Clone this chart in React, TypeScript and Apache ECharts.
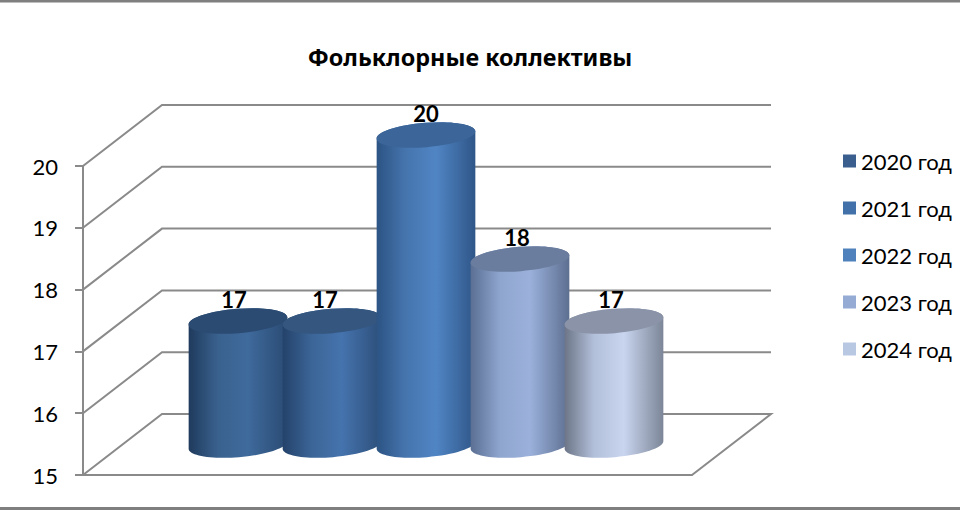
import React, { useEffect, useRef } from "react";
import * as echarts from "echarts";

const TITLE = "Фольклорные коллективы";
const years = ["2020 год", "2021 год", "2022 год", "2023 год", "2024 год"];
const values = [17, 17, 20, 18, 17];
const ticks = [15, 16, 17, 18, 19, 20];
const legendColors = ["#3a5f8e", "#4270a8", "#4f81bd", "#95abd3", "#b9c8e2"];
const topColors = ["#2b4b73", "#34567f", "#3c6699", "#6b7d9e", "#8a93a8"];
const bodyStops = [
  ["#1f3a5c", "#3a628f", "#3f6a9c", "#2a4b73"],
  ["#24426a", "#3c6698", "#4573ad", "#2d4f7a"],
  ["#2c5484", "#4675ae", "#5085c4", "#2f5688"],
  ["#5b6f93", "#8fa6cf", "#9bb1db", "#5d6f91"],
  ["#6d7688", "#b3c0da", "#c9d5ef", "#7c8698"],
];
const labelNudge = [-4, -7, 0, -3, -3];

const LINE = "#8a8a8a";
const FONT = "Lato, 'Noto Sans', sans-serif";
const DEPTH_X = 79;
const DEPTH_Y = 61;
const RX = 49.5;
const RY = 12.2;
const THETA = (4.5 * Math.PI) / 180;
const K = 0.5523;
const U = [RX * Math.cos(THETA), -RX * Math.sin(THETA)];
const V = [RY * Math.sin(THETA), RY * Math.cos(THETA)];

// point at centre (cx, cy) + a·U + b·V
const pt = (cx: number, cy: number, a: number, b: number) =>
  `${cx + a * U[0] + b * V[0]} ${cy + a * U[1] + b * V[1]}`;

// lower half of the tilted ellipse, left to right
const lowerArc = (cx: number, cy: number) =>
  `C${pt(cx, cy, -1, K)} ${pt(cx, cy, -K, 1)} ${pt(cx, cy, 0, 1)} ` +
  `C${pt(cx, cy, K, 1)} ${pt(cx, cy, 1, K)} ${pt(cx, cy, 1, 0)} `;
// upper half of the tilted ellipse, right to left
const upperArc = (cx: number, cy: number) =>
  `C${pt(cx, cy, 1, -K)} ${pt(cx, cy, K, -1)} ${pt(cx, cy, 0, -1)} ` +
  `C${pt(cx, cy, -K, -1)} ${pt(cx, cy, -1, -K)} ${pt(cx, cy, -1, 0)} `;

function wallItem(params: any, api: any) {
  const y = api.coord([0, api.value(1)])[1];
  const cs = params.coordSys;
  const x0 = cs.x;
  const x1 = cs.x + cs.width;
  const isFloor = api.value(1) === ticks[0];
  const pts = [[x0, y], [x0 + DEPTH_X, y - DEPTH_Y], [x1 + DEPTH_X, y - DEPTH_Y]];
  if (isFloor) pts.push([x1, y]);
  return {
    type: "polyline",
    shape: { points: pts },
    style: { stroke: LINE, lineWidth: 2, fill: "none" },
  };
}

function cylinderItem(idx: number) {
  return (_: any, api: any) => {
    const c = api.coord([api.value(0), api.value(1)]);
    const b = api.coord([api.value(0), ticks[0]]);
    const cx = c[0];
    const ty = c[1];
    const by = b[1];
    const d =
      `M${pt(cx, by, -1, 0)} ` + lowerArc(cx, by) +
      `L${pt(cx, ty, 1, 0)} ` + upperArc(cx, ty) + "Z";
    const top = `M${pt(cx, ty, -1, 0)} ` + lowerArc(cx, ty) + upperArc(cx, ty) + "Z";
    const s = bodyStops[idx];
    return {
      type: "group",
      children: [
        {
          type: "path",
          shape: { pathData: d },
          style: {
            fill: new echarts.graphic.LinearGradient(0, 0, 1, 0, [
              { offset: 0, color: s[0] },
              { offset: 0.3, color: s[1] },
              { offset: 0.6, color: s[2] },
              { offset: 1, color: s[3] },
            ]),
          },
        },
        {
          type: "path",
          shape: { pathData: top },
          style: { fill: topColors[idx] },
        },
        {
          type: "text",
          style: {
            x: cx + labelNudge[idx],
            y: ty - 22,
            text: String(api.value(1)),
            fill: "#000",
            font: `bold 22px ${FONT}`,
            align: "center",
            verticalAlign: "middle",
          },
        },
      ],
    };
  };
}

export default function App() {
  const ref = useRef<HTMLDivElement>(null);
  useEffect(() => {
    const chart = echarts.init(ref.current!, undefined, { renderer: "svg" });
    chart.setOption({
      animation: false,
      backgroundColor: "#fff",
      title: {
        text: TITLE,
        left: 465,
        top: 40,
        textAlign: "center",
        textStyle: { fontFamily: "'Noto Sans', sans-serif", fontWeight: "bold", fontSize: 23.4, color: "#000" },
      },
      legend: {
        orient: "vertical",
        left: 838,
        top: 145,
        itemWidth: 13,
        itemHeight: 13,
        itemGap: 25,
        icon: "rect",
        data: years,
        selectedMode: false,
        textStyle: { fontFamily: FONT, fontSize: 22, color: "#000" },
      },
      grid: [
        { left: 83, width: 609, top: 166, height: 309 },
        { left: 191, width: 470, top: 135, height: 310 },
      ],
      xAxis: [
        {
          type: "category",
          gridIndex: 0,
          data: [""],
          axisLine: { show: true, onZero: false, lineStyle: { color: LINE, width: 2 } },
          axisTick: { show: false },
          axisLabel: { show: false },
          splitLine: { show: false },
        },
        {
          type: "category",
          gridIndex: 1,
          data: years,
          show: false,
        },
      ],
      yAxis: [
        {
          type: "value",
          gridIndex: 0,
          min: 15,
          max: 20,
          interval: 1,
          axisLine: { show: true, lineStyle: { color: LINE, width: 2 } },
          axisTick: { show: true, length: 8, lineStyle: { color: LINE, width: 2 } },
          axisLabel: { fontFamily: FONT, fontSize: 22, color: "#000", margin: 25 },
          splitLine: { show: false },
        },
        { type: "value", gridIndex: 1, min: 15, max: 20, interval: 1, show: false },
      ],
      series: [
        {
          type: "custom",
          name: "walls",
          xAxisIndex: 0,
          yAxisIndex: 0,
          z: 1,
          silent: true,
          clip: false,
          renderItem: wallItem,
          data: ticks.map((t) => [0, t]),
        },
        ...years.map((name, i) => ({
          type: "custom",
          name,
          xAxisIndex: 1,
          yAxisIndex: 1,
          z: 2 + i,
          clip: false,
          itemStyle: { color: legendColors[i] },
          renderItem: cylinderItem(i),
          data: [[i, values[i]]],
        })),
      ],
      graphic: [
        { type: "rect", shape: { x: 0, y: 0, width: 960, height: 2.5 }, style: { fill: "#7f7f7f" } },
        { type: "rect", shape: { x: 0, y: 507, width: 960, height: 3 }, style: { fill: "#7f7f7f" } },
      ],
    });
    return () => chart.dispose();
  }, []);
  return <div ref={ref} style={{ position: "fixed", left: 0, top: 0, width: 960, height: 510 }} />;
}
